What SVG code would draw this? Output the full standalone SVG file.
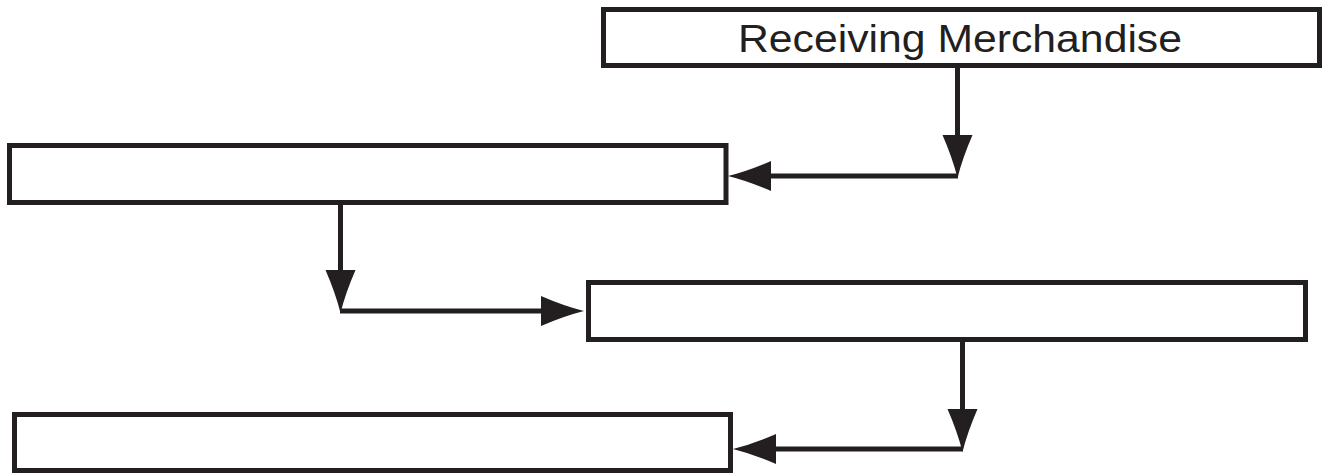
<svg xmlns="http://www.w3.org/2000/svg" xmlns:xlink="http://www.w3.org/1999/xlink" width="1323" height="473" viewBox="0 0 1323 473">
<style>
.box{fill:#ffffff;stroke:#231f20;stroke-width:5}
.line{fill:none;stroke:#231f20;stroke-width:5}
.head{fill:#231f20}
.label{font-family:"Liberation Sans",Arial,sans-serif;font-size:38px;fill:#231f20}
</style>
<defs>
<path id="ah" d="M0,0 Q-20,-5 -43,-15 L-43,15 Q-20,5 0,0 Z"/>
</defs>
<rect width="1323" height="473" fill="#ffffff"/>
<g id="node-receiving">
<rect class="box" x="603.5" y="9.5" width="716" height="56"/>
<text class="label" x="960" y="52" text-anchor="middle" textLength="444" lengthAdjust="spacingAndGlyphs">Receiving Merchandise</text>
</g>
<g id="node-2">
<rect class="box" x="9.5" y="145.5" width="716.5" height="57"/>
</g>
<g id="node-3">
<rect class="box" x="588.5" y="282.5" width="717" height="57"/>
</g>
<g id="node-4">
<rect class="box" x="14.5" y="414.5" width="716" height="56"/>
</g>
<g id="connectors">
<path class="line" d="M957.5,68 V150"/>
<path class="line" d="M958,176 H760"/>
<use class="head" xlink:href="#ah" transform="translate(957.5,178) rotate(90)"/>
<use class="head" xlink:href="#ah" transform="translate(728,176) rotate(180)"/>
<path class="line" d="M340.5,205 V285"/>
<path class="line" d="M340,311 H555"/>
<use class="head" xlink:href="#ah" transform="translate(340.5,313) rotate(90)"/>
<use class="head" xlink:href="#ah" transform="translate(584,311)"/>
<path class="line" d="M962.5,342 V424"/>
<path class="line" d="M963,449 H765"/>
<use class="head" xlink:href="#ah" transform="translate(962.5,452) rotate(90)"/>
<use class="head" xlink:href="#ah" transform="translate(733,449) rotate(180)"/>
</g>
</svg>
